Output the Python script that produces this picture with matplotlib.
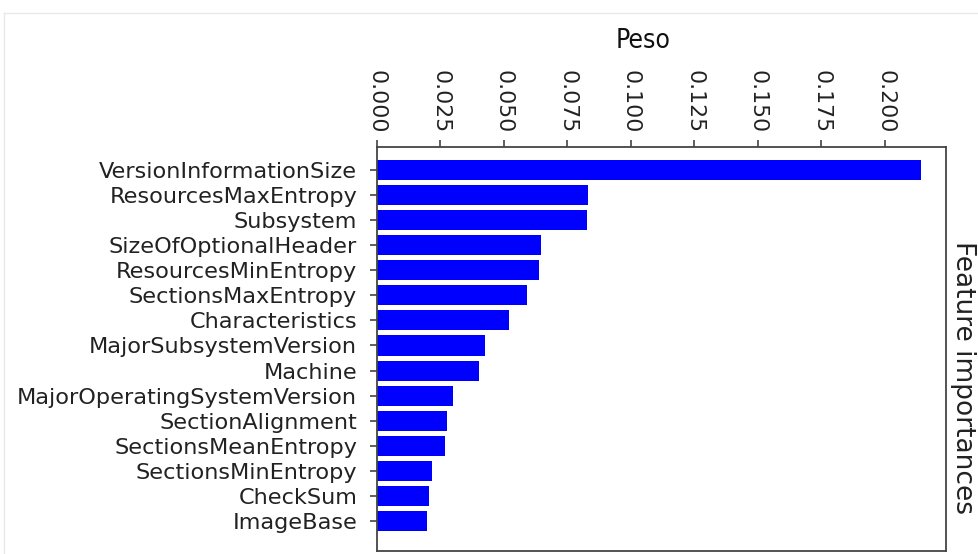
import numpy as np
import matplotlib
matplotlib.use("Agg")
import matplotlib.pyplot as plt
from matplotlib.lines import Line2D

features = ["VersionInformationSize", "ResourcesMaxEntropy", "Subsystem",
            "SizeOfOptionalHeader", "ResourcesMinEntropy", "SectionsMaxEntropy",
            "Characteristics", "MajorSubsystemVersion", "Machine",
            "MajorOperatingSystemVersion", "SectionAlignment", "SectionsMeanEntropy",
            "SectionsMinEntropy", "CheckSum", "ImageBase"]
importances = [0.2142, 0.0830, 0.0829, 0.0645, 0.0637, 0.0592,
               0.0522, 0.0428, 0.0403, 0.0301, 0.0275, 0.0269,
               0.0216, 0.0206, 0.0198]
xticks = [0.000, 0.025, 0.050, 0.075, 0.100, 0.125, 0.150, 0.175, 0.200]

fig = plt.figure(figsize=(9.79, 5.54), dpi=100)
ax = fig.add_axes([0.3847, 0.0054, 0.5816, 0.7293])

n = len(features)
ypos = np.arange(n)[::-1]
ax.barh(ypos, importances, height=0.8, color="blue")

ax.set_yticks(ypos)
ax.set_yticklabels(features, fontsize=16.1, color="#222222")
ax.set_ylim(-1.2, n - 1 + 0.92)
ax.set_xlim(0, 0.224)

ax.xaxis.tick_top()
ax.set_xticks(xticks)
ax.set_xticklabels(["%.3f" % t for t in xticks], rotation=-90, fontsize=15.8,
                   color="#222222")
ax.tick_params(axis="y", pad=9)
ax.tick_params(axis="x", pad=5)

# axis title "Peso", placed as in the reference (slightly left of centre)
ax.text(0.4675, 1.245, "Peso", transform=ax.transAxes, ha="center",
        va="baseline", fontsize=19, fontstretch="condensed", color="#111111")

for s in ax.spines.values():
    s.set_color("#444444")
    s.set_linewidth(1.3)
ax.tick_params(length=5, width=1.2, color="#444444")

fig.text(0.984, 0.3186, "Feature importances", rotation=270, fontsize=19,
         ha="center", va="center", color="#222222")

# notebook cell border
fig.add_artist(Line2D([0.004, 1.0], [0.977, 0.977], color="#e8e8e8", lw=1))
fig.add_artist(Line2D([0.004, 0.004], [0.0, 0.977], color="#e8e8e8", lw=1))

fig.savefig("out.png", dpi=100)
